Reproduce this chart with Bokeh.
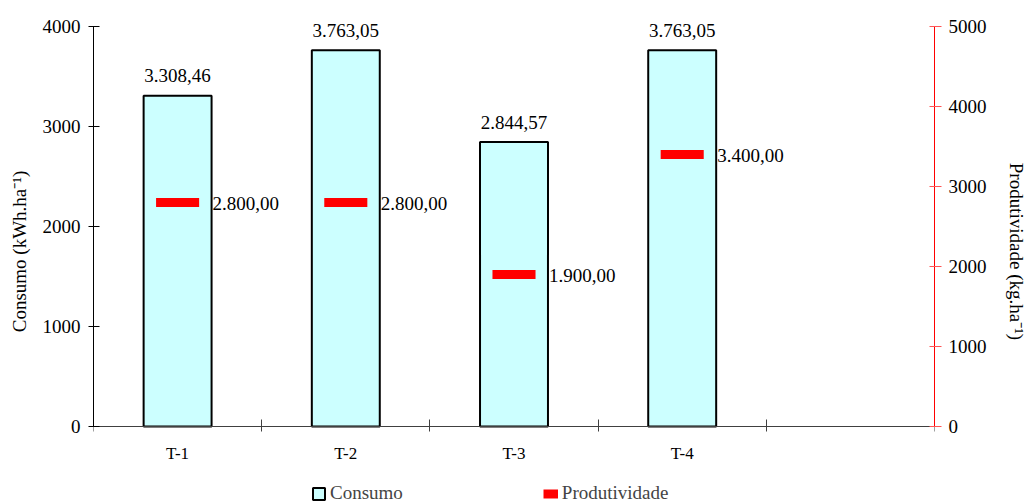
from bokeh.plotting import figure
from bokeh.models import (Range1d, LinearAxis, FixedTicker, SingleIntervalTicker,
                          Legend, LegendItem, ColumnDataSource)
from bokeh.core.properties import value
from bokeh.embed import file_html
from bokeh.resources import INLINE

categories = ["T-1", "T-2", "T-3", "T-4"]
consumo = [3308.46, 3763.05, 2844.57, 3763.05]
produtividade = [2800.00, 2800.00, 1900.00, 3400.00]
left_max, right_max = 4000, 5000


def br(v):
    s = f"{v:,.2f}"
    return s.replace(",", "X").replace(".", ",").replace("X", ".")


FONT = "Liberation Serif"
FS = "19px"
n_slots = len(categories) + 1
xs = [i + 0.5 for i in range(len(categories))]
half = 0.128  # half width of the red marks (style)

# the frame fills the page height; the axes span 400 px, 26 px below the top
PLOT_H, ABOVE, AXIS_H, BELOW = 502, 26, 400, 76
left_low = -left_max * BELOW / AXIS_H
right_low = -right_max * BELOW / AXIS_H
left_high = left_max * (1 + ABOVE / AXIS_H)
right_high = right_max * (1 + ABOVE / AXIS_H)

src = ColumnDataSource(dict(
    x=xs, cat=categories, consumo=consumo, prod=produtividade,
    c_lbl=[br(v) for v in consumo], p_lbl=[br(v) for v in produtividade],
    x0=[x - half for x in xs], x1=[x + half for x in xs],
))

p = figure(width=1029, height=PLOT_H, x_range=Range1d(0, n_slots),
           y_range=Range1d(left_low, left_high),
           output_backend="svg", toolbar_location=None,
           min_border_left=93, min_border_right=94, min_border_top=0, min_border_bottom=0)
p.extra_y_ranges = {"prod": Range1d(right_low, right_high)}
p.outline_line_color = None
p.xgrid.visible = False
p.ygrid.visible = False
p.background_fill_color = "white"
p.border_fill_color = "white"

# x axis
xa = p.xaxis[0]
xa.fixed_location = 0
xa.ticker = FixedTicker(ticks=xs, minor_ticks=list(range(n_slots + 1)))
xa.major_label_overrides = {x: c for x, c in zip(xs, categories)}
xa.major_tick_in = 0
xa.major_tick_out = 0
xa.minor_tick_in = 7
xa.minor_tick_out = 5
xa.minor_tick_line_color = "#404040"
xa.axis_line_color = "#404040"
xa.major_label_standoff = 12
xa.major_label_text_font = FONT
xa.major_label_text_font_size = "17px"
xa.major_label_text_color = "black"

# left axis
ya = p.yaxis[0]
ya.bounds = (0, left_max)
ya.ticker = SingleIntervalTicker(interval=1000)
ya.major_tick_in = 6
ya.major_tick_out = 5
ya.minor_tick_line_color = None
ya.axis_line_color = "black"
ya.major_tick_line_color = "black"
ya.major_label_standoff = 8
ya.major_label_text_font = FONT
ya.major_label_text_font_size = FS
ya.major_label_text_color = "black"
ya.axis_label = "Consumo (kWh.ha\u207b\u00b9)"
ya.axis_label_text_font = FONT
ya.axis_label_text_font_size = FS
ya.axis_label_text_font_style = "normal"
ya.axis_label_text_color = "black"
ya.axis_label_standoff = 10

# right axis
ra = LinearAxis(y_range_name="prod", ticker=SingleIntervalTicker(interval=1000),
                bounds=(0, right_max))
ra.major_tick_in = 5
ra.major_tick_out = 7
ra.minor_tick_line_color = None
ra.axis_line_color = "#FF0000"
ra.major_tick_line_color = "#FF5555"
ra.major_label_standoff = 7
ra.major_label_text_font = FONT
ra.major_label_text_font_size = FS
ra.major_label_text_color = "black"
ra.axis_label = "Produtividade (kg.ha\u207b\u00b9)"
ra.axis_label_text_font = FONT
ra.axis_label_text_font_size = FS
ra.axis_label_text_font_style = "normal"
ra.axis_label_text_color = "black"
ra.axis_label_standoff = 16
p.add_layout(ra, "right")

# bars
r_bar = p.vbar(x="x", top="consumo", bottom=0, width=0.404, source=src,
               fill_color="#CCFFFF", line_color="black", line_width=2)
# red marks
r_seg = p.segment(x0="x0", y0="prod", x1="x1", y1="prod", source=src, y_range_name="prod",
                  line_color="#FF0000", line_width=9)

# labels
p.text(x="x", y="consumo", text="c_lbl", source=src, text_font=value(FONT),
       text_font_size=FS, text_align="center", text_baseline="alphabetic",
       y_offset=-20, text_color="black")
p.text(x="x", y="prod", text="p_lbl", source=src, y_range_name="prod",
       text_font=value(FONT), text_font_size=FS, text_align="left",
       text_baseline="middle", x_offset=35, y_offset=1, text_color="black")

legend = Legend(items=[LegendItem(label="Consumo", renderers=[r_bar]),
                       LegendItem(label="Produtividade", renderers=[r_seg])],
                location=(218, -2), orientation="horizontal", spacing=140,
                glyph_width=15, glyph_height=15, label_standoff=4,
                label_text_font=FONT, label_text_font_size=FS,
                padding=0, margin=0, border_line_color=None, background_fill_alpha=0)
p.add_layout(legend)

open("out.html", "w").write(file_html(p, INLINE))
